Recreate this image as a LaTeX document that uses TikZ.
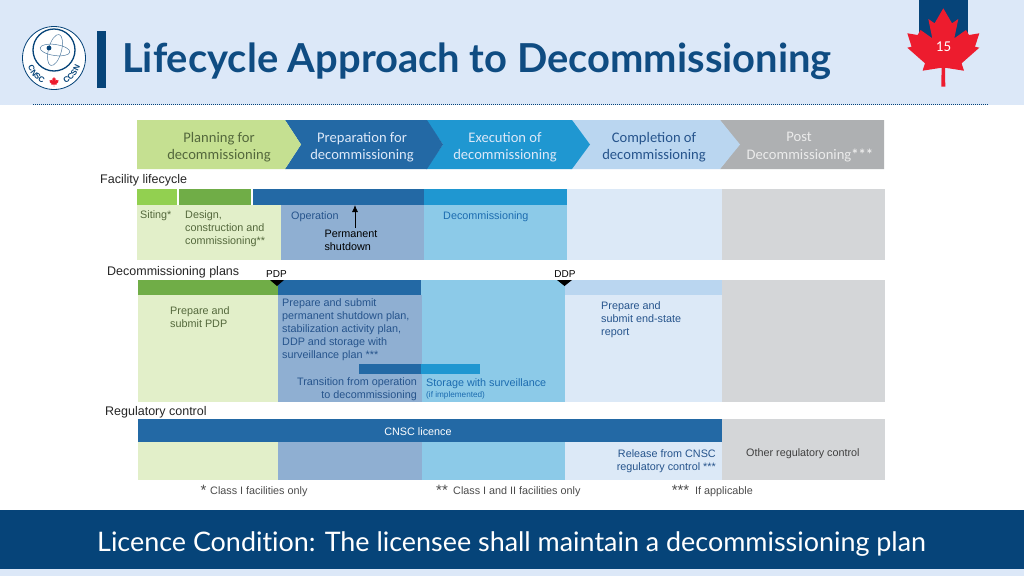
\documentclass[tikz,border=0pt]{standalone}
\usepackage{fontspec}
\usepackage{tikz}
\usetikzlibrary{decorations.text, arrows.meta}
\setmainfont{Liberation Sans}
\newfontfamily\headfont[Ligatures=CommonOff]{Lato}
\newfontfamily\chevfont{Carlito}
\definecolor{headbg}{RGB}{220,232,248}
\definecolor{navy}{RGB}{6,68,121}
\definecolor{titleblue}{RGB}{15,76,130}
\definecolor{leafred}{RGB}{237,28,46}
\definecolor{chevgreen}{RGB}{197,224,145}
\definecolor{chevblue}{RGB}{35,105,165}
\definecolor{chevsky}{RGB}{31,151,209}
\definecolor{chevpale}{RGB}{186,214,240}
\definecolor{chevgrey}{RGB}{174,176,178}
\definecolor{barlime}{RGB}{146,208,80}
\definecolor{bargreen}{RGB}{112,173,71}
\definecolor{panelgreen}{RGB}{226,239,201}
\definecolor{panelblue}{RGB}{143,175,210}
\definecolor{panelsky}{RGB}{140,202,232}
\definecolor{panelpale}{RGB}{220,233,247}
\definecolor{panelgrey}{RGB}{212,214,216}
\definecolor{textgreen}{RGB}{84,104,60}
\definecolor{textblue}{RGB}{38,84,140}
\definecolor{textsky}{RGB}{28,108,176}
\tikzstyle{chevtext}=[inner sep=0pt, align=center, font=\chevfont\fontsize{14.6}{17.5}\selectfont]
\tikzstyle{sectiontext}=[inner sep=0pt, anchor=west, black!85, font=\fontsize{12.5}{14}\selectfont]
\tikzstyle{bodytext}=[inner sep=0pt, anchor=west, align=left, font=\fontsize{10.8}{12.9}\selectfont]
\tikzstyle{notetext}=[inner sep=0pt, anchor=west, black!70, font=\fontsize{10.8}{13}\selectfont]
\tikzstyle{starmark}=[inner sep=0pt, black!70, font=\fontsize{15}{15}\selectfont]
\newcommand{\leafpath}{(0,8.3)--(8.7,23.3)--(15,19)--(11,38.3)--(22.7,30)--(25.7,35)--(36,33.3)--(31.7,46.7)--(36,47.7)--(18.3,63.3)--(20.7,70.7)--(1.7,67.7)--(2,86.7)--(-2,86.7)--(-1.7,67.7)--(-20.7,70.7)--(-18.3,63.3)--(-36,47.7)--(-31.7,46.7)--(-36,33.3)--(-25.7,35)--(-22.7,30)--(-11,38.3)--(-15,19)--(-8.7,23.3)--cycle}
\begin{document}
\begin{tikzpicture}[x=1pt, y=-1pt]
    \useasboundingbox (0,0) rectangle (1024,576);
    \fill[white] (0,0) rectangle (1024,576);
    % header
    \fill[headbg] (0,0) rectangle (1024,105);
    \draw[navy, line width=1.4pt, dash pattern=on 1.2pt off 0.8pt] (33,104.5)--(988,104.5);
    \fill[navy] (96.5,31) rectangle (105.5,87.5);
    \node[inner sep=0pt, anchor=west, text=titleblue, font=\headfont\bfseries\fontsize{39.9}{42}\selectfont] (title) at (122,61.5) {Lifecycle Approach to Decommissioning};
    % logo
    \draw[navy, fill=white, line width=0.8pt] (54,58) circle (31.5);
    \draw[navy, line width=1.3pt] (54,50) circle (21);
    \draw[navy!70, line width=0.5pt, rotate around={-8:(55,50)}] (55,50) ellipse (15 and 5.5);
    \draw[navy!70, line width=0.5pt, rotate around={75:(55,50)}] (55,50) ellipse (16 and 6.5);
    \fill[navy] (49,48) circle (2.4);
    \path[decorate, decoration={text along path, text align=center, text={|\color{navy}\bfseries\fontsize{8}{9}\selectfont|CNSC}}] (54,58) ++(172:27.5) arc[start angle=172, end angle=104, radius=27.5];
    \path[decorate, decoration={text along path, text align=center, text={|\color{navy}\bfseries\fontsize{8}{9}\selectfont|CCSN}}] (54,58) ++(76:27.5) arc[start angle=76, end angle=8, radius=27.5];
    \begin{scope}[shift={(54,76)}, scale=0.125]
        \fill[leafred] \leafpath;
    \end{scope}
    % page number
    \fill[navy] (919,0) rectangle (968,42);
    \begin{scope}[shift={(943.3,0)}]
        \fill[leafred] \leafpath;
    \end{scope}
    \node[inner sep=0pt, text=white, font=\chevfont\fontsize{15}{15}\selectfont] (page) at (943.5,46.5) {15};
    % phases
    \fill[chevgrey] (720,120)--(884,120)--(884,169)--(720,169)--(739,144.5)--cycle;
    \fill[chevpale] (570,120)--(720,120)--(740,144.5)--(720,169)--(570,169)--(590,144.5)--cycle;
    \fill[chevsky] (426,120)--(572,120)--(590,144.5)--(572,169)--(426,169)--(443,144.5)--cycle;
    \fill[chevblue] (285,120)--(427,120)--(443,144.5)--(427,169)--(285,169)--(301,144.5)--cycle;
    \fill[chevgreen] (137,120)--(285,120)--(301,144.5)--(285,169)--(137,169)--cycle;
    \node[chevtext, text=textgreen] (planning) at (219,147) {Planning for\\decommissioning};
    \node[chevtext, text=headbg] (preparation) at (362,147) {Preparation for\\decommissioning};
    \node[chevtext, text=headbg] (execution) at (505,147) {Execution of\\decommissioning};
    \node[chevtext, text=textblue] (completion) at (654,147) {Completion of\\decommissioning};
    \node[chevtext, text=black!8] (post) at (799,147) {Post\\Decommissioning\rlap{\textbf{***}}};
    % facility lifecycle
    \node[sectiontext] (facility) at (100,180) {Facility lifecycle};
    \fill[panelgreen] (137,205) rectangle (281,260);
    \fill[panelblue] (281,205) rectangle (424,260);
    \fill[panelsky] (424,205) rectangle (567,260);
    \fill[panelpale] (567,189) rectangle (722,260);
    \fill[panelgrey] (722,189) rectangle (885,260);
    \fill[barlime] (137,189) rectangle (177,205);
    \fill[bargreen] (178.5,189) rectangle (251,205);
    \fill[chevblue] (253,189) rectangle (424,205);
    \fill[chevsky] (424,189) rectangle (567,205);
    \node[bodytext, text=textgreen] (siting) at (140,216) {Siting*};
    \node[bodytext, text=textgreen] (design) at (185,229) {Design,\\construction and\\commissioning**};
    \node[bodytext, text=textblue] (operation) at (291,217) {Operation};
    \node[bodytext, text=textsky] (decom) at (443,217) {Decommissioning};
    \node[bodytext, anchor=center, align=left, text=black] (shutdown) at (351,240.5) {Permanent\\shutdown};
    \coordinate (shutpoint) at (355,205);
    \draw[-{Latex[length=7pt,width=6pt]}, line width=0.8pt, shorten <=2pt] (shutdown.north -| shutpoint)--(shutpoint);
    % decommissioning plans
    \node[sectiontext] (plans) at (107,272) {Decommissioning plans};
    \fill[panelgreen] (138,295) rectangle (278,402);
    \fill[panelblue] (278,295) rectangle (422,402);
    \fill[panelsky] (422,295) rectangle (565,402);
    \fill[panelsky] (421,280) rectangle (565,295);
    \fill[panelpale] (565,295) rectangle (722,402);
    \fill[panelgrey] (722,280) rectangle (885,402);
    \fill[bargreen] (138,280) rectangle (278,295);
    \fill[chevblue] (278,280) rectangle (421,295);
    \fill[chevpale] (565,280) rectangle (722,295);
    \fill[chevblue] (359,364) rectangle (421,374);
    \fill[chevsky] (421,364) rectangle (480,374);
    \fill[black] (270,280)--(284,280)--(277,286)--cycle;
    \fill[black] (557,280)--(572,280)--(564.5,286)--cycle;
    \node[inner sep=0pt, text=black, font=\fontsize{10}{11}\selectfont] (pdp) at (276.5,274) {PDP};
    \node[inner sep=0pt, text=black, font=\fontsize{10}{11}\selectfont] (ddp) at (565,274) {DDP};
    \node[bodytext, text=textgreen] (preparepdp) at (170,317.5) {Prepare and\\submit PDP};
    \node[bodytext, text=textblue] (preparesub) at (282,329.5) {Prepare and submit\\permanent shutdown plan,\\stabilization activity plan,\\DDP and storage with\\surveillance plan ***};
    \node[bodytext, anchor=east, align=right, text=textblue] (transition) at (417,389) {Transition from operation\\to decommissioning};
    \node[bodytext, text=textsky] (storage) at (426,383.5) {Storage with surveillance};
    \node[bodytext, text=textsky, font=\fontsize{8.2}{10}\selectfont] (implemented) at (426,395) {(if implemented)};
    \node[bodytext, text=textblue] (endstate) at (601,319.5) {Prepare and\\submit end-state\\report};
    % regulatory control
    \node[sectiontext] (regulatory) at (105,412) {Regulatory control};
    \fill[panelgreen] (138,442) rectangle (278,480);
    \fill[panelblue] (278,442) rectangle (422,480);
    \fill[panelsky] (422,442) rectangle (565,480);
    \fill[panelpale] (565,442) rectangle (722,480);
    \fill[panelgrey] (722,419) rectangle (885,480);
    \fill[chevblue] (138,419) rectangle (722,442);
    \node[bodytext, anchor=center, text=white] (licence) at (418,432) {CNSC licence};
    \node[bodytext, anchor=east, align=right, text=textblue] (release) at (716,461.5) {Release from CNSC\\regulatory control ***};
    \node[bodytext, text=black!75] (other) at (746,454) {Other regulatory control};
    % notes
    \node[starmark] (star1) at (203.5,490.5) {*};
    \node[notetext] (note1) at (210,492) {Class I facilities only};
    \node[starmark] (star2) at (442,490.5) {**};
    \node[notetext] (note2) at (453,492) {Class I and II facilities only};
    \node[starmark] (star3) at (680.5,490.5) {***};
    \node[notetext] (note3) at (695,492) {If applicable};
    % footer
    \fill[navy] (0,510) rectangle (1024,569);
    \fill[headbg] (0,569) rectangle (1024,576);
    \node[inner sep=0pt, anchor=west, text=white, font=\headfont\fontsize{26.9}{30}\selectfont] (condition) at (97,544) {Licence Condition: The licensee shall maintain a decommissioning plan};
\end{tikzpicture}
\end{document}
